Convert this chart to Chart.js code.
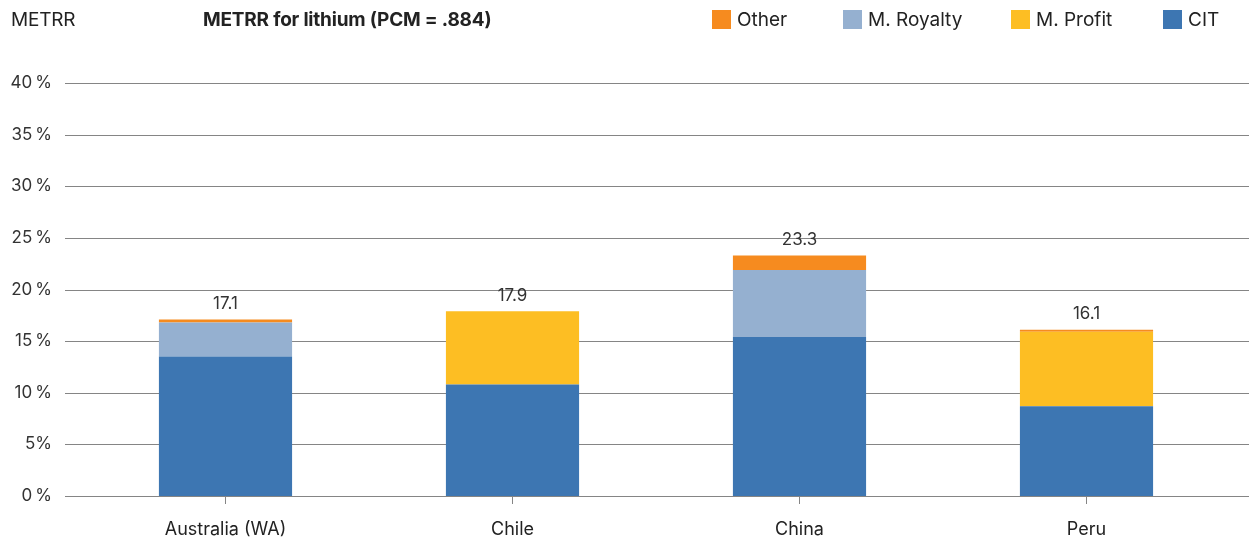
<!DOCTYPE html>
<html>
<head>
<meta charset="utf-8">
<script src="https://cdn.jsdelivr.net/npm/chart.js@4.4.1/dist/chart.umd.min.js"></script>
<style>
body{margin:0;background:#fff;font-family:Inter,"Liberation Sans",sans-serif;color:#222;}
#wrap{position:relative;width:1249px;height:541px;}
.head{position:absolute;top:8px;font-size:19px;letter-spacing:-0.2px;}
</style>
</head>
<body>
<div id="wrap">
  <div class="head" style="left:11px">METRR</div>
  <div class="head" style="left:203px;font-weight:bold">METRR for lithium (PCM = .884)</div>
  <canvas id="chart"></canvas>
</div>
<script>
const countries = ["Australia (WA)", "Chile", "China", "Peru"];
const cit     = [13.5, 10.8, 15.4, 8.7];
const royalty = [3.3, 0, 6.5, 0];
const profit  = [0, 7.1, 0, 7.2];
const other   = [0.3, 0, 1.4, 0.2];
const yTickValues = [0, 5, 10, 15, 20, 25, 30, 35, 40];
const yTickLabels = ["0\u2009%", "5%", "10\u2009%", "15\u2009%", "20\u2009%", "25\u2009%", "30\u2009%", "35\u2009%", "40\u2009%"];

const FONT = "Inter, 'Liberation Sans', sans-serif";

// horizontal rules run past the plot area on both sides
const gridLines = {
    id: "gridLines",
    beforeDatasetsDraw(chart) {
        const ctx = chart.ctx, y = chart.scales.y;
        ctx.save();
        ctx.strokeStyle = "#858585";
        ctx.lineWidth = 1;
        yTickValues.forEach(v => {
            const py = Math.round(y.getPixelForValue(v)) + 0.5;
            ctx.beginPath();
            ctx.moveTo(65, py);
            ctx.lineTo(chart.width, py);
            ctx.stroke();
        });
        ctx.restore();
    }
};

// stack totals above each bar
const totals = {
    id: "totals",
    afterDatasetsDraw(chart) {
        const ctx = chart.ctx, y = chart.scales.y;
        const meta = chart.getDatasetMeta(0);
        ctx.save();
        ctx.font = "17px " + FONT;
        ctx.fillStyle = "#333";
        ctx.textAlign = "center";
        ctx.textBaseline = "bottom";
        countries.forEach((c, i) => {
            const sum = cit[i] + royalty[i] + profit[i] + other[i];
            ctx.fillText(sum.toFixed(1), meta.data[i].x, y.getPixelForValue(sum) - 7);
        });
        ctx.restore();
    }
};

// legend row along the top, last series first
const legendRow = {
    id: "legendRow",
    afterDraw(chart) {
        const ctx = chart.ctx;
        const xs = [712, 843, 1011, 1163];
        const items = chart.data.datasets.slice().reverse();
        ctx.save();
        ctx.font = "19px " + FONT;
        ctx.textBaseline = "middle";
        items.forEach((d, i) => {
            ctx.fillStyle = d.backgroundColor;
            ctx.fillRect(xs[i], 10, 19, 19);
            ctx.fillStyle = "#222";
            ctx.fillText(d.label, xs[i] + 25, 20);
        });
        ctx.restore();
    }
};

const ds = (label, data, color) => ({
    label, data, backgroundColor: color, borderWidth: 0,
    categoryPercentage: 1, barPercentage: 0.464
});

new Chart(document.getElementById("chart"), {
    type: "bar",
    data: {
        labels: countries,
        datasets: [
            ds("CIT", cit, "#3d76b2"),
            ds("M. Profit", profit, "#fdbe23"),
            ds("M. Royalty", royalty, "#95b0d0"),
            ds("Other", other, "#f68b1f")
        ]
    },
    options: {
        responsive: true,
        maintainAspectRatio: false,
        animation: false,
        layout: { padding: { top: 83, right: 0, bottom: 0, left: 0 } },
        plugins: {
            tooltip: { enabled: false },
            legend: { display: false }
        },
        scales: {
            x: {
                stacked: true,
                offset: true,
                border: { display: false },
                afterFit: s => { s.height = 45; },
                grid: {
                    display: true, drawOnChartArea: false, drawTicks: true,
                    tickLength: 8, offset: false, color: "#858585", tickColor: "#858585"
                },
                ticks: { color: "#222", padding: 15, font: { family: FONT, size: 18 } }
            },
            y: {
                stacked: true,
                min: 0, max: 40,
                border: { display: false },
                grid: { display: false, drawTicks: false },
                afterFit: s => { s.width = 82; },
                afterBuildTicks: s => { s.ticks = yTickValues.map(v => ({ value: v })); },
                ticks: {
                    color: "#333", padding: 30,
                    font: { family: FONT, size: 17 },
                    callback: (v) => yTickLabels[yTickValues.indexOf(v)]
                }
            },
            pad: {
                position: "right",
                display: true,
                border: { display: false },
                grid: { display: false, drawTicks: false },
                ticks: { display: false },
                afterFit: s => { s.width = 19; }
            }
        }
    },
    plugins: [gridLines, totals, legendRow]
});
</script>
</body>
</html>
